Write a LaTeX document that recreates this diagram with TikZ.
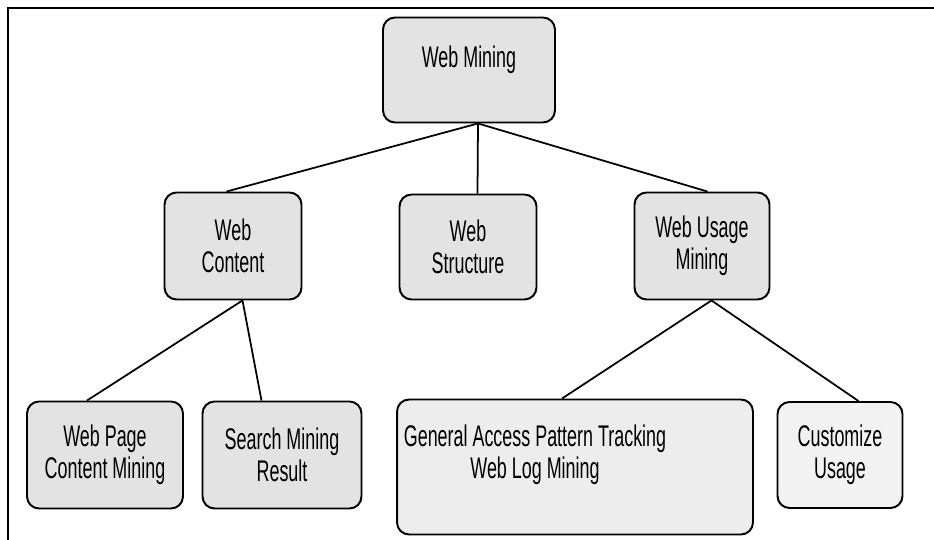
\documentclass[tikz,border=0pt]{standalone}
\usepackage{fontspec}
\setmainfont{Liberation Sans}[FakeStretch=0.6]
\usetikzlibrary{positioning}

\begin{document}
\begin{tikzpicture}[
    x=0.02cm, y=-0.02cm,
    box/.style={rectangle, rounded corners=0.24cm, draw, line width=1.1pt, fill=gray!22, align=center, font=\fontsize{17}{18}\selectfont},
    link/.style={line width=1pt}
]
    \useasboundingbox (0,0) rectangle (934,540);
    % Frame of the figure
    \draw[line width=1.2pt] (8,540) -- (8,8) -- (934,8);

    % Root
    \node[box, minimum width=3.44cm, minimum height=2.1cm, text depth=0.55cm] (root) at (469,70) {Web Mining};

    % Three main branches
    \node[box, minimum width=2.74cm, minimum height=2.14cm] (content) at (233,246) {Web\\Content};
    \node[box, minimum width=2.74cm, minimum height=2.1cm] (structure) at (468,247) {Web\\Structure};
    \node[box, minimum width=2.7cm, minimum height=2.14cm] (usage) at (702,246) {Web Usage\\Mining};

    % Leaves
    \node[box, minimum width=3.12cm, minimum height=2.14cm] (pagemining) at (105,455) {Web Page\\Content Mining};
    \node[box, minimum width=3.18cm, minimum height=2.14cm] (searchresult) at (282,455) {Search Mining\\Result};
    \node[box, fill=gray!14, minimum width=7.12cm, minimum height=2.7cm,
          label={[align=center, font=\fontsize{17}{18}\selectfont, shift={(-0.8cm,0.25cm)}]center:General Access Pattern Tracking\\Web Log Mining}] (accesspattern) at (575,467) {};
    \node[box, fill=gray!10, minimum width=2.5cm, minimum height=2.12cm] (customize) at (840,455) {Customize\\Usage};

    % Links
    \draw[link] ([xshift=0.18cm]root.south) -- ([xshift=-0.13cm]content.north);
    \draw[link] ([xshift=0.18cm]root.south) -- ([xshift=0.19cm]structure.north);
    \draw[link] ([xshift=0.18cm]root.south) -- ([xshift=0.11cm]usage.north);
    \draw[link] ([xshift=0.19cm]content.south) -- ([xshift=-0.36cm]pagemining.north);
    \draw[link] ([xshift=0.19cm]content.south) -- ([xshift=-0.41cm]searchresult.north);
    \draw[link] ([xshift=0.19cm]usage.south) -- ([xshift=-0.26cm]accesspattern.north);
    \draw[link] ([xshift=0.19cm]usage.south) -- ([xshift=0.37cm]customize.north);
\end{tikzpicture}
\end{document}
